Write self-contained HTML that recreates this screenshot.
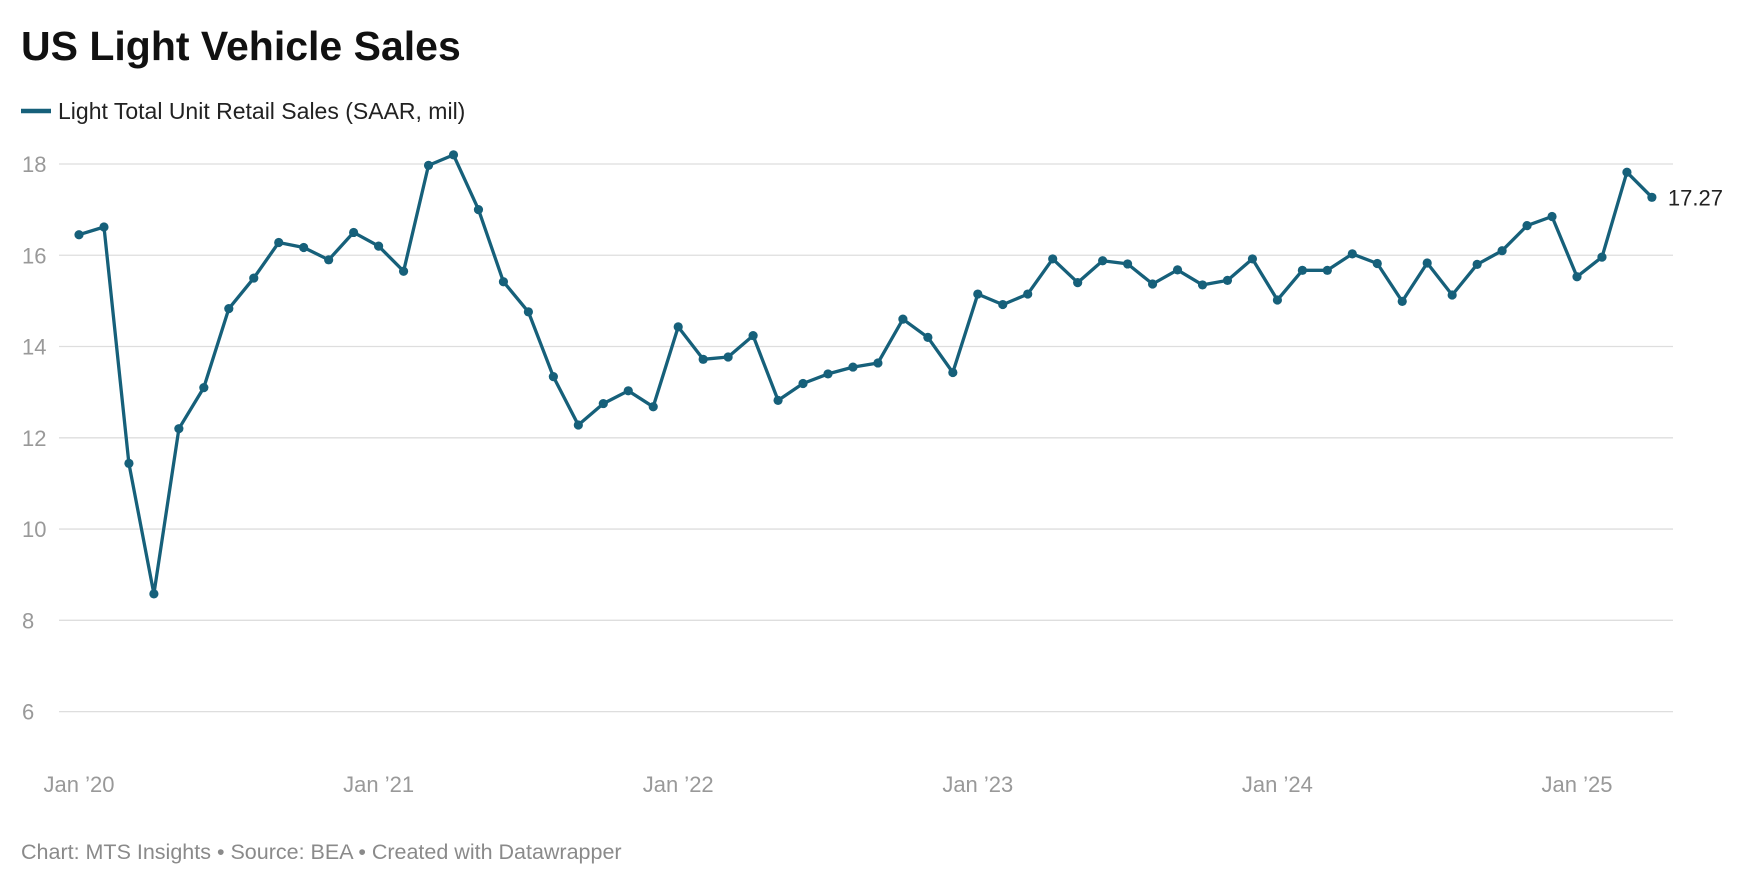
<!DOCTYPE html>
<html><head><meta charset="utf-8"><style>
html,body{margin:0;padding:0;background:#fff;}
svg{display:block;font-family:"Liberation Sans",sans-serif;}
</style></head><body>
<svg id="chart" width="1740" height="882" viewBox="0 0 1740 882">
<text x="21" y="60" font-size="41" font-weight="bold" fill="#111">US Light Vehicle Sales</text>
<g>
<line x1="21" y1="111" x2="51" y2="111" stroke="#16607a" stroke-width="4.5"/>
<text x="58" y="119" font-size="23" fill="#222">Light Total Unit Retail Sales (SAAR, mil)</text>
</g>
<g id="grid"></g><g id="xt"></g><g id="series"></g>
<text x="21" y="859" font-size="21.5" fill="#8a8a8a">Chart: MTS Insights • Source: BEA • Created with Datawrapper</text>
</svg>
<script>
const yTicks=[6,8,10,12,14,16,18];
const xTickLabels=["Jan ’20","Jan ’21","Jan ’22","Jan ’23","Jan ’24","Jan ’25"];
const sales=[16.45,16.62,11.44,8.58,12.2,13.1,14.83,15.5,16.28,16.17,15.9,16.5,
16.2,15.65,17.97,18.2,17.0,15.42,14.76,13.34,12.28,12.75,13.03,12.68,
14.43,13.72,13.77,14.24,12.82,13.19,13.4,13.55,13.64,14.6,14.2,13.43,
15.15,14.92,15.15,15.92,15.4,15.88,15.81,15.37,15.68,15.35,15.45,15.92,
15.02,15.67,15.67,16.03,15.82,14.99,15.83,15.13,15.8,16.1,16.65,16.85,
15.53,15.96,17.82,17.27];
const NS="http://www.w3.org/2000/svg";
const y=v=>711.6-(v-6)*(711.6-164)/12;
const x=i=>79+i*(1577-79)/60;
function mk(t,a,p){const e=document.createElementNS(NS,t);for(const k in a)e.setAttribute(k,a[k]);p.appendChild(e);return e;}
const grid=document.getElementById('grid');
yTicks.forEach(v=>{
const l=mk('line',{x1:59,x2:1673,y1:y(v),y2:y(v),stroke:'#dedede','stroke-width':1.3},grid);


const t=mk('text',{x:22,y:y(v)+8,'font-size':22,fill:'#999'},grid);t.textContent=v;


});
const xt=document.getElementById('xt');
xTickLabels.forEach((s,i)=>{
const t=mk('text',{x:x(i*12),y:792,'font-size':22,fill:'#999','text-anchor':'middle'},xt);t.textContent=s;


});
const g=document.getElementById('series');
const p=mk('path',{d:sales.map((v,i)=>(i?'L':'M')+x(i).toFixed(1)+' '+y(v).toFixed(1)).join(''),fill:'none',stroke:'#16607a','stroke-width':3.3,'stroke-linejoin':'round'},g);


sales.forEach((v,i)=>{
const c=mk('circle',{cx:x(i),cy:y(v),r:4.6,fill:'#16607a'},g);


});
const n=sales.length-1;
const lab=mk('text',{x:x(n)+16,y:y(sales[n])+8,'font-size':22,fill:'#222'},g);
lab.textContent=sales[n].toFixed(2);


</script>
</body></html>
